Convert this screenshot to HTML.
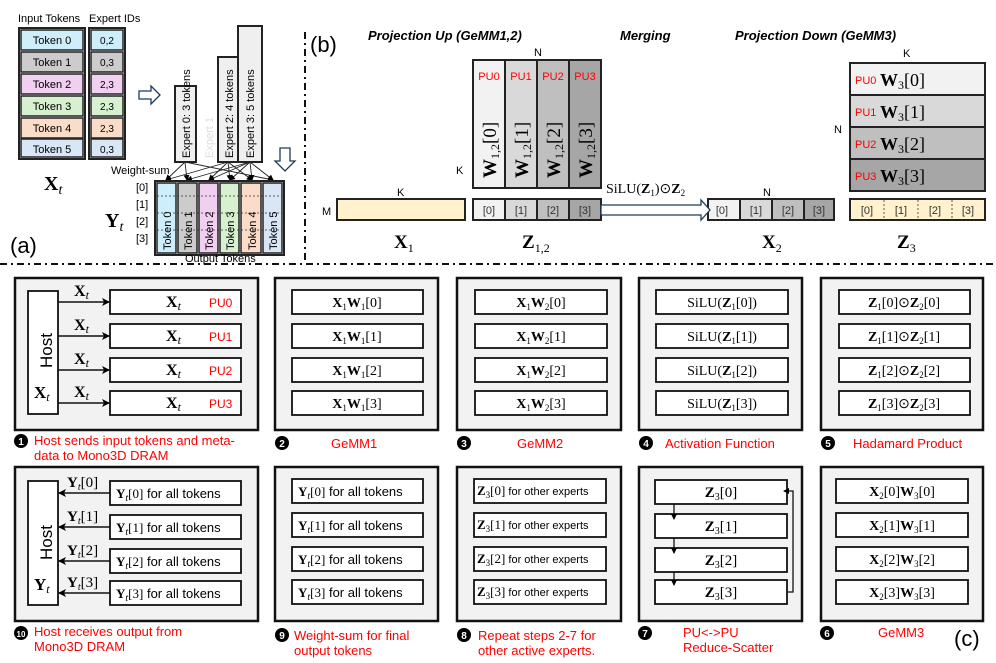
<!DOCTYPE html>
<html><head><meta charset="utf-8">
<style>
body{margin:0;background:#fff}
svg{display:block}
text{font-family:"Liberation Sans",sans-serif}
.s,.s text,.s tspan{font-family:"Liberation Serif",serif}
.r{fill:#f00}
</style></head><body>
<svg width="996" height="663" viewBox="0 0 996 663" xmlns="http://www.w3.org/2000/svg">
<defs>
<marker id="ah" markerWidth="8" markerHeight="8" refX="7" refY="4" orient="auto" markerUnits="userSpaceOnUse"><path d="M0,0 L8,4 L0,8 L2,4z" fill="#000"/></marker>
<marker id="as" markerWidth="6" markerHeight="6" refX="5" refY="3" orient="auto" markerUnits="userSpaceOnUse"><path d="M0,0 L6,3 L0,6z" fill="#000"/></marker>
</defs>

<!-- ===== (a) ===== -->
<text x="18" y="22" font-size="11">Input Tokens</text>
<text x="89" y="22" font-size="11">Expert IDs</text>
<g stroke="#222" stroke-width="1.5" font-size="11">
<rect x="19" y="28" width="66" height="131" fill="none" stroke-width="2"/>
<rect x="21" y="30" width="62" height="20" fill="#cdeefa"/>
<rect x="21" y="52" width="62" height="20" fill="#cccccc"/>
<rect x="21" y="74" width="62" height="20" fill="#f0cff0"/>
<rect x="21" y="96" width="62" height="20" fill="#d6f0d0"/>
<rect x="21" y="118" width="62" height="20" fill="#fbdcc8"/>
<rect x="21" y="139" width="62" height="18" fill="#d8e6f5"/>
<rect x="89" y="28" width="36" height="131" fill="none" stroke-width="2"/>
<rect x="91" y="30" width="32" height="20" fill="#cdeefa"/>
<rect x="91" y="52" width="32" height="20" fill="#cccccc"/>
<rect x="91" y="74" width="32" height="20" fill="#f0cff0"/>
<rect x="91" y="96" width="32" height="20" fill="#d6f0d0"/>
<rect x="91" y="118" width="32" height="20" fill="#fbdcc8"/>
<rect x="91" y="139" width="32" height="18" fill="#d8e6f5"/>
</g>
<g font-size="11" text-anchor="middle">
<text x="52" y="44">Token 0</text><text x="52" y="66">Token 1</text><text x="52" y="88">Token 2</text>
<text x="52" y="110">Token 3</text><text x="52" y="132">Token 4</text><text x="52" y="153">Token 5</text>
<text x="107" y="44" font-size="10">0,2</text><text x="107" y="66" font-size="10">0,3</text><text x="107" y="88" font-size="10">2,3</text>
<text x="107" y="110" font-size="10">2,3</text><text x="107" y="132" font-size="10">2,3</text><text x="107" y="153" font-size="10">0,3</text>
</g>
<text x="44" y="190" class="s" font-size="20" font-weight="bold">X<tspan font-weight="normal" font-style="italic" font-size="14" dy="4">t</tspan></text>
<path d="M139,91 h12 v-5 l9,9 l-9,9 v-5 h-12z" fill="#fff" stroke="#1f3b5a" stroke-width="1.3"/>
<g stroke="#222" stroke-width="2" fill="#efefef">
<rect x="175" y="86" width="21" height="76"/>
<rect x="218" y="57" width="20" height="105"/>
<rect x="238" y="26" width="24" height="136"/>
</g>
<g font-size="11">
<text transform="translate(190,158) rotate(-90)">Expert 0: 3 tokens</text>
<text transform="translate(213,158) rotate(-90)" fill="#ddd">Expert 1</text>
<text transform="translate(233,158) rotate(-90)">Expert 2: 4 tokens</text>
<text transform="translate(254,158) rotate(-90)">Expert 3: 5 tokens</text>
</g>
<path d="M280,148 h10 v13 h5 l-10,10 l-10,-10 h5z" fill="#fff" stroke="#1f3b5a" stroke-width="1.3"/>
<text x="111" y="174" font-size="11">Weight-sum</text>
<g stroke="#222" stroke-width="0.9" marker-end="url(#as)">
<line x1="185" y1="162" x2="166" y2="180"/><line x1="185" y1="162" x2="187" y2="180"/><line x1="185" y1="162" x2="273" y2="180"/>
<line x1="228" y1="162" x2="166" y2="180"/><line x1="228" y1="162" x2="209" y2="180"/><line x1="228" y1="162" x2="230" y2="180"/><line x1="228" y1="162" x2="252" y2="180"/>
<line x1="250" y1="162" x2="187" y2="180"/><line x1="250" y1="162" x2="209" y2="180"/><line x1="250" y1="162" x2="230" y2="180"/><line x1="250" y1="162" x2="252" y2="180"/><line x1="250" y1="162" x2="273" y2="180"/>
</g>
<g stroke="#222" stroke-width="1.5">
<rect x="155" y="181" width="129" height="74" fill="none" stroke-width="2"/>
<rect x="157" y="183" width="19" height="70" fill="#cdeefa"/>
<rect x="178" y="183" width="19" height="70" fill="#cccccc"/>
<rect x="199" y="183" width="19" height="70" fill="#f0cff0"/>
<rect x="220" y="183" width="19" height="70" fill="#d6f0d0"/>
<rect x="241" y="183" width="20" height="70" fill="#fbdcc8"/>
<rect x="263" y="183" width="19" height="70" fill="#d8e6f5"/>
</g>
<g stroke="#333" stroke-width="0.8" stroke-dasharray="2,2">
<line x1="157" y1="196" x2="282" y2="196"/><line x1="157" y1="213" x2="282" y2="213"/><line x1="157" y1="230" x2="282" y2="230"/>
</g>
<g font-size="11">
<text transform="translate(171,250) rotate(-90)">Token 0</text><text transform="translate(192,250) rotate(-90)">Token 1</text>
<text transform="translate(213,250) rotate(-90)">Token 2</text><text transform="translate(234,250) rotate(-90)">Token 3</text>
<text transform="translate(256,250) rotate(-90)">Token 4</text><text transform="translate(277,250) rotate(-90)">Token 5</text>
</g>
<g font-size="11"><text x="136" y="191">[0]</text><text x="136" y="208">[1]</text><text x="136" y="225">[2]</text><text x="136" y="242">[3]</text></g>
<text x="105" y="227" class="s" font-size="20" font-weight="bold">Y<tspan font-weight="normal" font-style="italic" font-size="14" dy="4">t</tspan></text>
<text x="10" y="253" font-size="22">(a)</text>
<text x="185" y="262" font-size="11">Output Tokens</text>

<line x1="305" y1="32" x2="305" y2="262" stroke="#111" stroke-width="2" stroke-dasharray="7,4,2,4"/>
<line x1="0" y1="264" x2="996" y2="264" stroke="#111" stroke-width="2" stroke-dasharray="7,4,2,4"/>

<!-- ===== (b) ===== -->
<text x="310" y="52" font-size="22">(b)</text>
<g font-size="13" font-style="italic" font-weight="bold">
<text x="368" y="40">Projection Up (GeMM1,2)</text>
<text x="620" y="40">Merging</text>
<text x="735" y="40">Projection Down (GeMM3)</text>
</g>
<g font-size="11"><text x="534" y="56">N</text><text x="456" y="174">K</text><text x="397" y="196">K</text><text x="322" y="215">M</text><text x="763" y="196">N</text><text x="903" y="57">K</text><text x="834" y="133">N</text></g>
<g stroke="#222" stroke-width="2">
<rect x="473" y="60" width="32" height="128" fill="#f2f2f2"/>
<rect x="505" y="60" width="32" height="128" fill="#d9d9d9"/>
<rect x="537" y="60" width="32" height="128" fill="#bfbfbf"/>
<rect x="569" y="60" width="32" height="128" fill="#a6a6a6"/>
<rect x="337" y="199" width="128" height="21" fill="#fff2cc"/>
<rect x="473" y="199" width="32" height="21" fill="#f2f2f2"/>
<rect x="505" y="199" width="32" height="21" fill="#d9d9d9"/>
<rect x="537" y="199" width="32" height="21" fill="#bfbfbf"/>
<rect x="569" y="199" width="32" height="21" fill="#a6a6a6"/>
<rect x="708" y="199" width="32" height="21" fill="#f2f2f2"/>
<rect x="740" y="199" width="32" height="21" fill="#d9d9d9"/>
<rect x="772" y="199" width="32" height="21" fill="#bfbfbf"/>
<rect x="804" y="199" width="30" height="21" fill="#a6a6a6"/>
<rect x="850" y="63" width="135" height="32" fill="#f2f2f2"/>
<rect x="850" y="95" width="135" height="32" fill="#d9d9d9"/>
<rect x="850" y="127" width="135" height="32" fill="#bfbfbf"/>
<rect x="850" y="159" width="135" height="32" fill="#a6a6a6"/>
<rect x="850" y="199" width="135" height="21" fill="#fff2cc"/>
</g>
<g stroke="#333" stroke-width="0.8" stroke-dasharray="2,2"><line x1="884" y1="200" x2="884" y2="219"/><line x1="918" y1="200" x2="918" y2="219"/><line x1="952" y1="200" x2="952" y2="219"/></g>
<g font-size="11" class="r" text-anchor="middle"><text x="489" y="80">PU0</text><text x="521" y="80">PU1</text><text x="553" y="80">PU2</text><text x="585" y="80">PU3</text></g>
<g class="s" font-size="19">
<text transform="translate(496,178) rotate(-90)"><tspan font-weight="bold">W</tspan><tspan font-size="12" dy="3">1,2</tspan><tspan dy="-3">[0]</tspan></text>
<text transform="translate(528,178) rotate(-90)"><tspan font-weight="bold">W</tspan><tspan font-size="12" dy="3">1,2</tspan><tspan dy="-3">[1]</tspan></text>
<text transform="translate(560,178) rotate(-90)"><tspan font-weight="bold">W</tspan><tspan font-size="12" dy="3">1,2</tspan><tspan dy="-3">[2]</tspan></text>
<text transform="translate(592,178) rotate(-90)"><tspan font-weight="bold">W</tspan><tspan font-size="12" dy="3">1,2</tspan><tspan dy="-3">[3]</tspan></text>
</g>
<g font-size="11" fill="#333" text-anchor="middle">
<text x="489" y="214">[0]</text><text x="521" y="214">[1]</text><text x="553" y="214">[2]</text><text x="585" y="214">[3]</text>
<text x="722" y="214">[0]</text><text x="756" y="214">[1]</text><text x="788" y="214">[2]</text><text x="819" y="214">[3]</text>
<text x="867" y="214">[0]</text><text x="901" y="214">[1]</text><text x="935" y="214">[2]</text><text x="968" y="214">[3]</text>
</g>
<g font-size="11" class="r"><text x="855" y="84">PU0</text><text x="855" y="116">PU1</text><text x="855" y="148">PU2</text><text x="855" y="180">PU3</text></g>
<g class="s" font-size="18">
<text x="880" y="86"><tspan font-weight="bold">W</tspan><tspan font-size="12" dy="3">3</tspan><tspan dy="-3">[0]</tspan></text>
<text x="880" y="118"><tspan font-weight="bold">W</tspan><tspan font-size="12" dy="3">3</tspan><tspan dy="-3">[1]</tspan></text>
<text x="880" y="150"><tspan font-weight="bold">W</tspan><tspan font-size="12" dy="3">3</tspan><tspan dy="-3">[2]</tspan></text>
<text x="880" y="182"><tspan font-weight="bold">W</tspan><tspan font-size="12" dy="3">3</tspan><tspan dy="-3">[3]</tspan></text>
</g>
<path d="M601,205 h100 v-5 l9,10 l-9,10 v-5 h-100z" fill="#fff" stroke="#1f3b5a" stroke-width="1.3"/>
<text x="606" y="193" class="s" font-size="14">SiLU(<tspan font-weight="bold">Z</tspan><tspan font-size="9" dy="3">1</tspan><tspan dy="-3">)⊙</tspan><tspan font-weight="bold">Z</tspan><tspan font-size="9" dy="3">2</tspan></text>
<g class="s" font-size="19" font-weight="bold">
<text x="394" y="248">X<tspan font-size="12" font-weight="normal" dy="4">1</tspan></text>
<text x="522" y="248">Z<tspan font-size="12" font-weight="normal" dy="4">1,2</tspan></text>
<text x="762" y="248">X<tspan font-size="12" font-weight="normal" dy="4">2</tspan></text>
<text x="897" y="248">Z<tspan font-size="12" font-weight="normal" dy="4">3</tspan></text>
</g>

<!-- ===== (c) panels ===== -->
<g stroke="#111" stroke-width="2.5" fill="#f2f2f2">
<rect x="15" y="278" width="243" height="152"/>
<rect x="275" y="278" width="163" height="152"/>
<rect x="457" y="278" width="164" height="152"/>
<rect x="639" y="278" width="163" height="152"/>
<rect x="821" y="278" width="162" height="152"/>
<rect x="15" y="467" width="243" height="154"/>
<rect x="275" y="467" width="163" height="154"/>
<rect x="457" y="467" width="164" height="154"/>
<rect x="639" y="467" width="163" height="154"/>
<rect x="821" y="467" width="162" height="154"/>
</g>
<g stroke="#111" stroke-width="1.8" fill="#fff">
<rect x="28" y="291" width="30" height="123"/>
<rect x="110" y="290" width="131" height="24"/><rect x="110" y="324" width="131" height="24"/><rect x="110" y="358" width="131" height="24"/><rect x="110" y="391" width="131" height="24"/>
<rect x="292" y="290" width="131" height="24"/><rect x="292" y="324" width="131" height="24"/><rect x="292" y="358" width="131" height="24"/><rect x="292" y="391" width="131" height="24"/>
<rect x="475" y="290" width="132" height="24"/><rect x="475" y="324" width="132" height="24"/><rect x="475" y="358" width="132" height="24"/><rect x="475" y="391" width="132" height="24"/>
<rect x="656" y="290" width="132" height="24"/><rect x="656" y="324" width="132" height="24"/><rect x="656" y="358" width="132" height="24"/><rect x="656" y="391" width="132" height="24"/>
<rect x="839" y="290" width="131" height="24"/><rect x="839" y="324" width="131" height="24"/><rect x="839" y="358" width="131" height="24"/><rect x="839" y="391" width="131" height="24"/>
<rect x="28" y="481" width="30" height="124"/>
<rect x="110" y="481" width="131" height="24"/><rect x="110" y="515" width="131" height="24"/><rect x="110" y="549" width="131" height="24"/><rect x="110" y="581" width="131" height="24"/>
<rect x="292" y="479" width="131" height="24"/><rect x="292" y="513" width="131" height="24"/><rect x="292" y="547" width="131" height="24"/><rect x="292" y="580" width="131" height="24"/>
<rect x="474" y="479" width="132" height="24"/><rect x="474" y="513" width="132" height="24"/><rect x="474" y="547" width="132" height="24"/><rect x="474" y="580" width="132" height="24"/>
<rect x="655" y="480" width="132" height="24"/><rect x="655" y="514" width="132" height="24"/><rect x="655" y="548" width="132" height="24"/><rect x="655" y="580" width="132" height="24"/>
<rect x="836" y="479" width="132" height="24"/><rect x="836" y="513" width="132" height="24"/><rect x="836" y="547" width="132" height="24"/><rect x="836" y="580" width="132" height="24"/>
</g>

<!-- panel 1 -->
<text transform="translate(52,368) rotate(-90)" font-size="17">Host</text>
<text x="34" y="398" class="s" font-size="17" font-weight="bold">X<tspan font-weight="normal" font-style="italic" font-size="12" dy="3">t</tspan></text>
<g stroke="#111" stroke-width="1.5" marker-end="url(#ah)">
<line x1="58" y1="302" x2="109" y2="302"/><line x1="58" y1="336" x2="109" y2="336"/><line x1="58" y1="370" x2="109" y2="370"/><line x1="58" y1="403" x2="109" y2="403"/>
</g>
<g class="s" font-size="16" font-weight="bold">
<text x="74" y="296">X<tspan font-weight="normal" font-style="italic" font-size="12" dy="3">t</tspan></text>
<text x="74" y="330">X<tspan font-weight="normal" font-style="italic" font-size="12" dy="3">t</tspan></text>
<text x="74" y="364">X<tspan font-weight="normal" font-style="italic" font-size="12" dy="3">t</tspan></text>
<text x="74" y="397">X<tspan font-weight="normal" font-style="italic" font-size="12" dy="3">t</tspan></text>
<text x="166" y="307">X<tspan font-weight="normal" font-style="italic" font-size="12" dy="3">t</tspan></text>
<text x="166" y="341">X<tspan font-weight="normal" font-style="italic" font-size="12" dy="3">t</tspan></text>
<text x="166" y="375">X<tspan font-weight="normal" font-style="italic" font-size="12" dy="3">t</tspan></text>
<text x="166" y="408">X<tspan font-weight="normal" font-style="italic" font-size="12" dy="3">t</tspan></text>
</g>
<g class="r" font-size="12"><text x="209" y="307">PU0</text><text x="209" y="341">PU1</text><text x="209" y="375">PU2</text><text x="209" y="408">PU3</text></g>

<g class="s" font-size="14" text-anchor="middle">
<text x="357" y="307"><tspan font-weight="bold">X</tspan><tspan font-size="9" dy="3">1</tspan><tspan font-weight="bold" dy="-3">W</tspan><tspan font-size="9" dy="3">1</tspan><tspan dy="-3">[0]</tspan></text>
<text x="357" y="341"><tspan font-weight="bold">X</tspan><tspan font-size="9" dy="3">1</tspan><tspan font-weight="bold" dy="-3">W</tspan><tspan font-size="9" dy="3">1</tspan><tspan dy="-3">[1]</tspan></text>
<text x="357" y="375"><tspan font-weight="bold">X</tspan><tspan font-size="9" dy="3">1</tspan><tspan font-weight="bold" dy="-3">W</tspan><tspan font-size="9" dy="3">1</tspan><tspan dy="-3">[2]</tspan></text>
<text x="357" y="408"><tspan font-weight="bold">X</tspan><tspan font-size="9" dy="3">1</tspan><tspan font-weight="bold" dy="-3">W</tspan><tspan font-size="9" dy="3">1</tspan><tspan dy="-3">[3]</tspan></text>
<text x="541" y="307"><tspan font-weight="bold">X</tspan><tspan font-size="9" dy="3">1</tspan><tspan font-weight="bold" dy="-3">W</tspan><tspan font-size="9" dy="3">2</tspan><tspan dy="-3">[0]</tspan></text>
<text x="541" y="341"><tspan font-weight="bold">X</tspan><tspan font-size="9" dy="3">1</tspan><tspan font-weight="bold" dy="-3">W</tspan><tspan font-size="9" dy="3">2</tspan><tspan dy="-3">[1]</tspan></text>
<text x="541" y="375"><tspan font-weight="bold">X</tspan><tspan font-size="9" dy="3">1</tspan><tspan font-weight="bold" dy="-3">W</tspan><tspan font-size="9" dy="3">2</tspan><tspan dy="-3">[2]</tspan></text>
<text x="541" y="408"><tspan font-weight="bold">X</tspan><tspan font-size="9" dy="3">1</tspan><tspan font-weight="bold" dy="-3">W</tspan><tspan font-size="9" dy="3">2</tspan><tspan dy="-3">[3]</tspan></text>
<text x="722" y="307">SiLU(<tspan font-weight="bold">Z</tspan><tspan font-size="9" dy="3">1</tspan><tspan dy="-3">[0])</tspan></text>
<text x="722" y="341">SiLU(<tspan font-weight="bold">Z</tspan><tspan font-size="9" dy="3">1</tspan><tspan dy="-3">[1])</tspan></text>
<text x="722" y="375">SiLU(<tspan font-weight="bold">Z</tspan><tspan font-size="9" dy="3">1</tspan><tspan dy="-3">[2])</tspan></text>
<text x="722" y="408">SiLU(<tspan font-weight="bold">Z</tspan><tspan font-size="9" dy="3">1</tspan><tspan dy="-3">[3])</tspan></text>
<text x="904" y="307"><tspan font-weight="bold">Z</tspan><tspan font-size="9" dy="3">1</tspan><tspan dy="-3">[0]⊙</tspan><tspan font-weight="bold">Z</tspan><tspan font-size="9" dy="3">2</tspan><tspan dy="-3">[0]</tspan></text>
<text x="904" y="341"><tspan font-weight="bold">Z</tspan><tspan font-size="9" dy="3">1</tspan><tspan dy="-3">[1]⊙</tspan><tspan font-weight="bold">Z</tspan><tspan font-size="9" dy="3">2</tspan><tspan dy="-3">[1]</tspan></text>
<text x="904" y="375"><tspan font-weight="bold">Z</tspan><tspan font-size="9" dy="3">1</tspan><tspan dy="-3">[2]⊙</tspan><tspan font-weight="bold">Z</tspan><tspan font-size="9" dy="3">2</tspan><tspan dy="-3">[2]</tspan></text>
<text x="904" y="408"><tspan font-weight="bold">Z</tspan><tspan font-size="9" dy="3">1</tspan><tspan dy="-3">[3]⊙</tspan><tspan font-weight="bold">Z</tspan><tspan font-size="9" dy="3">2</tspan><tspan dy="-3">[3]</tspan></text>
</g>

<!-- panel 10 -->
<text transform="translate(52,560) rotate(-90)" font-size="17">Host</text>
<text x="34" y="590" class="s" font-size="17" font-weight="bold">Y<tspan font-weight="normal" font-style="italic" font-size="12" dy="3">t</tspan></text>
<g stroke="#111" stroke-width="1.5" marker-end="url(#ah)">
<line x1="110" y1="493" x2="59" y2="493"/><line x1="110" y1="527" x2="59" y2="527"/><line x1="110" y1="561" x2="59" y2="561"/><line x1="110" y1="593" x2="59" y2="593"/>
</g>
<g class="s" font-size="15">
<text x="67" y="487"><tspan font-weight="bold">Y</tspan><tspan font-style="italic" font-size="10" dy="3">t</tspan><tspan dy="-3">[0]</tspan></text>
<text x="67" y="521"><tspan font-weight="bold">Y</tspan><tspan font-style="italic" font-size="10" dy="3">t</tspan><tspan dy="-3">[1]</tspan></text>
<text x="67" y="555"><tspan font-weight="bold">Y</tspan><tspan font-style="italic" font-size="10" dy="3">t</tspan><tspan dy="-3">[2]</tspan></text>
<text x="67" y="587"><tspan font-weight="bold">Y</tspan><tspan font-style="italic" font-size="10" dy="3">t</tspan><tspan dy="-3">[3]</tspan></text>
</g>
<g font-size="13">
<text x="116" y="498"><tspan class="s" font-weight="bold">Y</tspan><tspan class="s" font-style="italic" font-size="10" dy="3">t</tspan><tspan class="s" dy="-3">[0]</tspan> for all tokens</text>
<text x="116" y="532"><tspan class="s" font-weight="bold">Y</tspan><tspan class="s" font-style="italic" font-size="10" dy="3">t</tspan><tspan class="s" dy="-3">[1]</tspan> for all tokens</text>
<text x="116" y="566"><tspan class="s" font-weight="bold">Y</tspan><tspan class="s" font-style="italic" font-size="10" dy="3">t</tspan><tspan class="s" dy="-3">[2]</tspan> for all tokens</text>
<text x="116" y="598"><tspan class="s" font-weight="bold">Y</tspan><tspan class="s" font-style="italic" font-size="10" dy="3">t</tspan><tspan class="s" dy="-3">[3]</tspan> for all tokens</text>
<text x="298" y="496"><tspan class="s" font-weight="bold">Y</tspan><tspan class="s" font-style="italic" font-size="10" dy="3">t</tspan><tspan class="s" dy="-3">[0]</tspan> for all tokens</text>
<text x="298" y="530"><tspan class="s" font-weight="bold">Y</tspan><tspan class="s" font-style="italic" font-size="10" dy="3">t</tspan><tspan class="s" dy="-3">[1]</tspan> for all tokens</text>
<text x="298" y="564"><tspan class="s" font-weight="bold">Y</tspan><tspan class="s" font-style="italic" font-size="10" dy="3">t</tspan><tspan class="s" dy="-3">[2]</tspan> for all tokens</text>
<text x="298" y="597"><tspan class="s" font-weight="bold">Y</tspan><tspan class="s" font-style="italic" font-size="10" dy="3">t</tspan><tspan class="s" dy="-3">[3]</tspan> for all tokens</text>
</g>
<g font-size="11">
<text x="477" y="495"><tspan class="s" font-weight="bold" font-size="13">Z</tspan><tspan class="s" font-size="9" dy="3">3</tspan><tspan class="s" font-size="13" dy="-3">[0]</tspan> for other experts</text>
<text x="477" y="529"><tspan class="s" font-weight="bold" font-size="13">Z</tspan><tspan class="s" font-size="9" dy="3">3</tspan><tspan class="s" font-size="13" dy="-3">[1]</tspan> for other experts</text>
<text x="477" y="563"><tspan class="s" font-weight="bold" font-size="13">Z</tspan><tspan class="s" font-size="9" dy="3">3</tspan><tspan class="s" font-size="13" dy="-3">[2]</tspan> for other experts</text>
<text x="477" y="596"><tspan class="s" font-weight="bold" font-size="13">Z</tspan><tspan class="s" font-size="9" dy="3">3</tspan><tspan class="s" font-size="13" dy="-3">[3]</tspan> for other experts</text>
</g>
<g class="s" font-size="15" text-anchor="middle">
<text x="721" y="497"><tspan font-weight="bold">Z</tspan><tspan font-size="10" dy="3">3</tspan><tspan dy="-3">[0]</tspan></text>
<text x="721" y="531"><tspan font-weight="bold">Z</tspan><tspan font-size="10" dy="3">3</tspan><tspan dy="-3">[1]</tspan></text>
<text x="721" y="565"><tspan font-weight="bold">Z</tspan><tspan font-size="10" dy="3">3</tspan><tspan dy="-3">[2]</tspan></text>
<text x="721" y="597"><tspan font-weight="bold">Z</tspan><tspan font-size="10" dy="3">3</tspan><tspan dy="-3">[3]</tspan></text>
<text x="902" y="496" font-size="14"><tspan font-weight="bold">X</tspan><tspan font-size="9" dy="3">2</tspan><tspan dy="-3">[0]</tspan><tspan font-weight="bold">W</tspan><tspan font-size="9" dy="3">3</tspan><tspan dy="-3">[0]</tspan></text>
<text x="902" y="530" font-size="14"><tspan font-weight="bold">X</tspan><tspan font-size="9" dy="3">2</tspan><tspan dy="-3">[1]</tspan><tspan font-weight="bold">W</tspan><tspan font-size="9" dy="3">3</tspan><tspan dy="-3">[1]</tspan></text>
<text x="902" y="564" font-size="14"><tspan font-weight="bold">X</tspan><tspan font-size="9" dy="3">2</tspan><tspan dy="-3">[2]</tspan><tspan font-weight="bold">W</tspan><tspan font-size="9" dy="3">3</tspan><tspan dy="-3">[2]</tspan></text>
<text x="902" y="597" font-size="14"><tspan font-weight="bold">X</tspan><tspan font-size="9" dy="3">2</tspan><tspan dy="-3">[3]</tspan><tspan font-weight="bold">W</tspan><tspan font-size="9" dy="3">3</tspan><tspan dy="-3">[3]</tspan></text>
</g>
<g stroke="#111" stroke-width="1.3" fill="none" marker-end="url(#as)">
<line x1="674" y1="504" x2="674" y2="519"/><line x1="674" y1="538" x2="674" y2="553"/><line x1="674" y1="572" x2="674" y2="585"/>
<path d="M787,592 H793 V491 H784"/>
</g>

<!-- captions -->
<g font-size="13">
<circle cx="21" cy="441" r="7" fill="#000"/><text x="21" y="445" fill="#fff" font-size="10" font-weight="bold" text-anchor="middle">1</text>
<text x="34" y="445" class="r">Host sends input tokens and meta-</text>
<text x="34" y="460" class="r">data to Mono3D DRAM</text>
<circle cx="282" cy="443" r="7" fill="#000"/><text x="282" y="447" fill="#fff" font-size="10" font-weight="bold" text-anchor="middle">2</text>
<text x="331" y="448" class="r">GeMM1</text>
<circle cx="464" cy="443" r="7" fill="#000"/><text x="464" y="447" fill="#fff" font-size="10" font-weight="bold" text-anchor="middle">3</text>
<text x="517" y="448" class="r">GeMM2</text>
<circle cx="646" cy="443" r="7" fill="#000"/><text x="646" y="447" fill="#fff" font-size="10" font-weight="bold" text-anchor="middle">4</text>
<text x="665" y="448" class="r">Activation Function</text>
<circle cx="828" cy="443" r="7" fill="#000"/><text x="828" y="447" fill="#fff" font-size="10" font-weight="bold" text-anchor="middle">5</text>
<text x="853" y="448" class="r">Hadamard Product</text>

<circle cx="21" cy="633" r="7" fill="#000"/><text x="21" y="637" fill="#fff" font-size="8" font-weight="bold" text-anchor="middle">10</text>
<text x="34" y="636" class="r">Host receives output from</text>
<text x="34" y="651" class="r">Mono3D DRAM</text>
<circle cx="282" cy="635" r="7" fill="#000"/><text x="282" y="639" fill="#fff" font-size="10" font-weight="bold" text-anchor="middle">9</text>
<text x="294" y="640" class="r">Weight-sum for final</text>
<text x="294" y="655" class="r">output tokens</text>
<circle cx="464" cy="635" r="7" fill="#000"/><text x="464" y="639" fill="#fff" font-size="10" font-weight="bold" text-anchor="middle">8</text>
<text x="478" y="640" class="r">Repeat steps 2-7 for</text>
<text x="478" y="655" class="r">other active experts.</text>
<circle cx="645" cy="633" r="7" fill="#000"/><text x="645" y="637" fill="#fff" font-size="10" font-weight="bold" text-anchor="middle">7</text>
<text x="683" y="637" class="r">PU&lt;-&gt;PU</text>
<text x="683" y="652" class="r">Reduce-Scatter</text>
<circle cx="827" cy="633" r="7" fill="#000"/><text x="827" y="637" fill="#fff" font-size="10" font-weight="bold" text-anchor="middle">6</text>
<text x="878" y="637" class="r">GeMM3</text>
</g>
<text x="954" y="646" font-size="22">(c)</text>
</svg>
</body></html>
